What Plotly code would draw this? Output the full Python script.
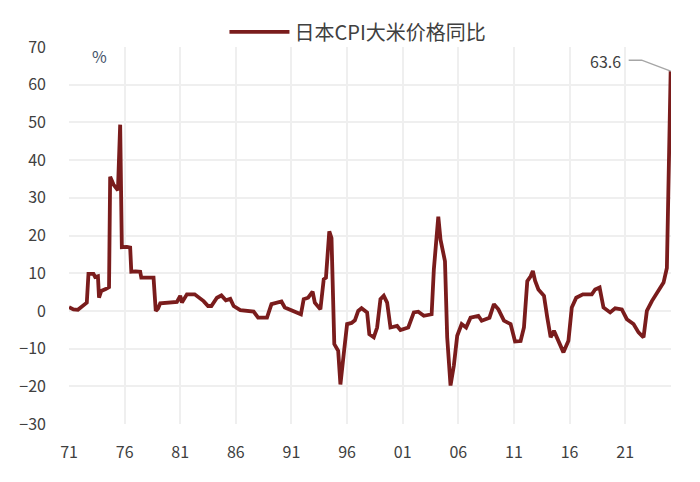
import plotly.graph_objects as go

# 日本CPI大米价格同比（%），按年份小数读取
years = [
    1971.0, 1971.4, 1971.8, 1972.2, 1972.6, 1972.75, 1973.2, 1973.35, 1973.6, 1973.7,
    1973.9, 1974.3, 1974.6, 1974.7, 1975.0, 1975.4, 1975.6, 1975.75, 1976.2, 1976.5,
    1976.6, 1977.0, 1977.4, 1977.5, 1978.0, 1978.6, 1978.8, 1979.0, 1979.2, 1980.0,
    1980.7, 1981.0, 1981.15, 1981.6, 1982.3, 1983.1, 1983.5, 1983.8, 1984.3, 1984.7,
    1985.1, 1985.5, 1985.8, 1986.4, 1987.0, 1987.6, 1988.0, 1988.8, 1989.2, 1989.7,
    1990.1, 1990.4, 1990.9, 1991.6, 1991.85, 1992.1, 1992.5, 1992.9, 1993.1, 1993.6,
    1993.9, 1994.1, 1994.4, 1994.6, 1994.85, 1995.2, 1995.4, 1995.7, 1996.0, 1996.4,
    1996.7, 1997.0, 1997.3, 1997.8, 1998.0, 1998.4, 1998.7, 1999.0, 1999.3, 1999.6,
    1999.9, 2000.5, 2000.8, 2001.5, 2002.0, 2002.4, 2002.9, 2003.6, 2003.8, 2004.2,
    2004.4, 2004.8, 2005.0, 2005.3, 2005.6, 2005.9, 2006.3, 2006.7, 2007.1, 2007.8,
    2008.1, 2008.8, 2009.2, 2009.6, 2010.1, 2010.7, 2011.1, 2011.6, 2011.9, 2012.2,
    2012.5, 2012.7, 2012.9, 2013.2, 2013.7, 2014.0, 2014.3, 2014.6, 2015.0, 2015.45,
    2015.9, 2016.2, 2016.6, 2017.2, 2018.0, 2018.3, 2018.7, 2019.05, 2019.65, 2020.1,
    2020.7, 2021.15, 2021.75, 2022.2, 2022.65, 2022.95, 2023.4, 2024.0, 2024.45, 2024.75,
    2024.95, 2025.09,
]
rice_yoy = [
    1.0, 0.4, 0.3, 1.2, 2.2, 9.8, 9.8, 9.0, 9.2, 3.5,
    5.3, 5.8, 6.3, 35.6, 33.5, 32.0, 49.4, 16.9, 17.0, 16.8,
    10.4, 10.5, 10.4, 8.8, 8.9, 8.8, 0.0, 0.6, 2.0, 2.2,
    2.4, 4.0, 2.2, 4.4, 4.4, 2.6, 1.3, 1.3, 3.5, 4.1,
    2.8, 3.2, 1.3, 0.2, 0.0, -0.2, -1.8, -1.8, 1.8, 2.3,
    2.5, 0.9, 0.2, -0.7, -0.9, 3.1, 3.5, 5.1, 2.2, 0.4,
    8.4, 8.8, 21.1, 19.3, -8.8, -10.6, -19.5, -11.4, -3.5, -3.2,
    -2.5, 0.0, 0.7, -0.4, -6.2, -7.0, -4.4, 3.1, 4.0, 2.2,
    -4.4, -4.0, -5.1, -4.4, -0.4, -0.2, -1.3, -0.9, 11.0, 25.0,
    18.9, 13.2, -7.0, -19.8, -14.5, -6.6, -3.5, -4.4, -1.8, -1.3,
    -2.6, -1.8, 1.8, 0.4, -2.6, -3.5, -8.1, -8.0, -4.4, 7.9,
    9.2, 10.6, 8.0, 5.7, 4.0, -1.8, -7.0, -5.3, -7.9, -11.0,
    -7.9, 0.9, 3.5, 4.4, 4.4, 5.7, 6.2, 0.9, -0.4, 0.7,
    0.4, -2.2, -3.5, -5.7, -7.0, 0.0, 2.6, 5.3, 7.5, 11.4,
    40.0, 63.6,
]

tick_years = [1971, 1976, 1981, 1986, 1991, 1996, 2001, 2006, 2011, 2016, 2021]
tick_text = ['71', '76', '81', '86', '91', '96', '01', '06', '11', '16', '21']

line_color = '#7A1C1C'
grid_color = '#EFEFEF'
text_color = '#404040'
font_cjk = 'Noto Sans CJK SC'

fig = go.Figure()
fig.add_trace(go.Scatter(
    x=years, y=rice_yoy, mode='lines', name='日本CPI大米价格同比',
    line=dict(color=line_color, width=3.8),
))

# 最新值标注
last_x, last_y = years[-1], rice_yoy[-1]
fig.add_shape(
    type='path', xref='x', yref='y', xsizemode='pixel', ysizemode='pixel',
    xanchor=last_x, yanchor=last_y,
    path='M-42,11 L-29,11 L0,0',
    line=dict(color='#A6A6A6', width=1.5),
)
fig.add_annotation(
    x=last_x, y=last_y, text=f'{last_y:.1f}', showarrow=False,
    xanchor='right', yanchor='middle', xshift=-48, yshift=10,
    font=dict(family=font_cjk, size=16, color=text_color),
)
fig.add_annotation(
    x=0.05, y=0.975, xref='paper', yref='paper', text='%', showarrow=False,
    xanchor='center', yanchor='middle',
    font=dict(family=font_cjk, size=16, color='#44546A'),
)

fig.update_layout(
    width=700, height=482,
    margin=dict(l=69, r=29, t=45, b=58),
    plot_bgcolor='white', paper_bgcolor='white',
    font=dict(family=font_cjk, color=text_color, size=16),
    showlegend=True,
    legend=dict(
        orientation='h', x=0.48, xanchor='center', y=1.04, yanchor='middle',
        font=dict(family=font_cjk, size=20, color=text_color),
        itemwidth=60, bgcolor='rgba(0,0,0,0)',
    ),
    xaxis=dict(
        range=[1971, 2025.12], tickmode='array', tickvals=tick_years, ticktext=tick_text,
        showgrid=True, gridcolor=grid_color, gridwidth=2, automargin=False,
        zeroline=False, showline=False, ticks='', ticklabelstandoff=17,
        tickfont=dict(size=16, color=text_color),
    ),
    yaxis=dict(
        range=[-30, 70], dtick=10, showgrid=True, gridcolor=grid_color, gridwidth=2,
        automargin=False, tickformat='d',
        zeroline=False, showline=False, ticks='', ticklabelstandoff=22,
        tickfont=dict(size=16, color=text_color),
    ),
)

# 去掉页面默认边距，让图表贴齐窗口左上角
fig.write_html('out.html', config={'displayModeBar': False},
               post_script="document.body.style.margin='0';")
